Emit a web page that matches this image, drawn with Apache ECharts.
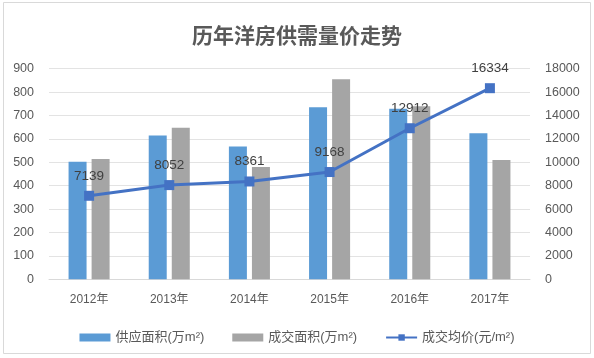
<!DOCTYPE html>
<html><head><meta charset="utf-8">
<script src="https://cdn.jsdelivr.net/npm/echarts@6/dist/echarts.min.js"></script>
<style>html,body{margin:0;padding:0;background:#fff}#c{width:594px;height:358px}</style>
</head><body><div id="c"></div>
<script>
const categories = ['2012年','2013年','2014年','2015年','2016年','2017年'];
const supplyArea = [502, 614, 568, 735, 729, 624];
const dealArea = [514, 648, 480, 855, 740, 510];
const avgPrice = [7139, 8052, 8361, 9168, 12912, 16334];
const leftTicks = {min:0, max:900, interval:100};
const rightTicks = {min:0, max:18000, interval:2000};

const chart = echarts.init(document.getElementById('c'), null, {renderer:'canvas'});
const font = '"Liberation Sans", "Noto Sans CJK SC", sans-serif';
chart.setOption({
  backgroundColor:'#fff',
  animation:false,
  textStyle:{fontFamily:font},
  title:{text:'历年洋房供需量价走势', left:'center', top:20,
    textStyle:{fontSize:21, fontWeight:'bold', color:'#595959', fontFamily:'"Noto Sans CJK SC", sans-serif'}},
  graphic:[{type:'rect', shape:{x:3.5,y:2.5,width:587,height:351}, style:{fill:'none', stroke:'#d9d9d9', lineWidth:1}, z:-1}],
  grid:{left:49, right:64, top:68.7, bottom:78.7},
  legend:{bottom:9, left:'center', itemGap:28, itemWidth:31, itemHeight:8,
    textStyle:{fontSize:13, color:'#595959', fontFamily:font},
    data:[{name:'供应面积(万m²)', icon:'rect'},{name:'成交面积(万m²)', icon:'rect'},{name:'成交均价(元/m²)'}]},
  xAxis:{type:'category', data:categories,
    axisLine:{lineStyle:{color:'#d9d9d9'}}, axisTick:{show:false},
    axisLabel:{fontSize:12, color:'#595959', margin:14}},
  yAxis:[
    {type:'value', min:leftTicks.min, max:leftTicks.max, interval:leftTicks.interval,
      axisLine:{show:false}, axisTick:{show:false},
      splitLine:{lineStyle:{color:'#e3e3e3'}},
      axisLabel:{fontSize:12.5, color:'#595959', margin:15, formatter:v=>String(v)}},
    {type:'value', min:rightTicks.min, max:rightTicks.max, interval:rightTicks.interval,
      axisLine:{show:false}, axisTick:{show:false}, splitLine:{show:false},
      axisLabel:{fontSize:12.5, color:'#595959', margin:15, formatter:v=>String(v)}}
  ],
  series:[
    {name:'供应面积(万m²)', type:'bar', data:supplyArea, barWidth:18, barGap:'28%', itemStyle:{color:'#5B9BD5'}},
    {name:'成交面积(万m²)', type:'bar', data:dealArea, barWidth:18, barGap:'28%', itemStyle:{color:'#A5A5A5'}},
    {name:'成交均价(元/m²)', type:'line', yAxisIndex:1, data:avgPrice,
      symbol:'rect', symbolSize:10, lineStyle:{color:'#4472C4', width:3}, itemStyle:{color:'#4472C4'},
      label:{show:true, position:'top', distance:8, fontSize:13.5, color:'#404040'}}
  ]
});
</script></body></html>
